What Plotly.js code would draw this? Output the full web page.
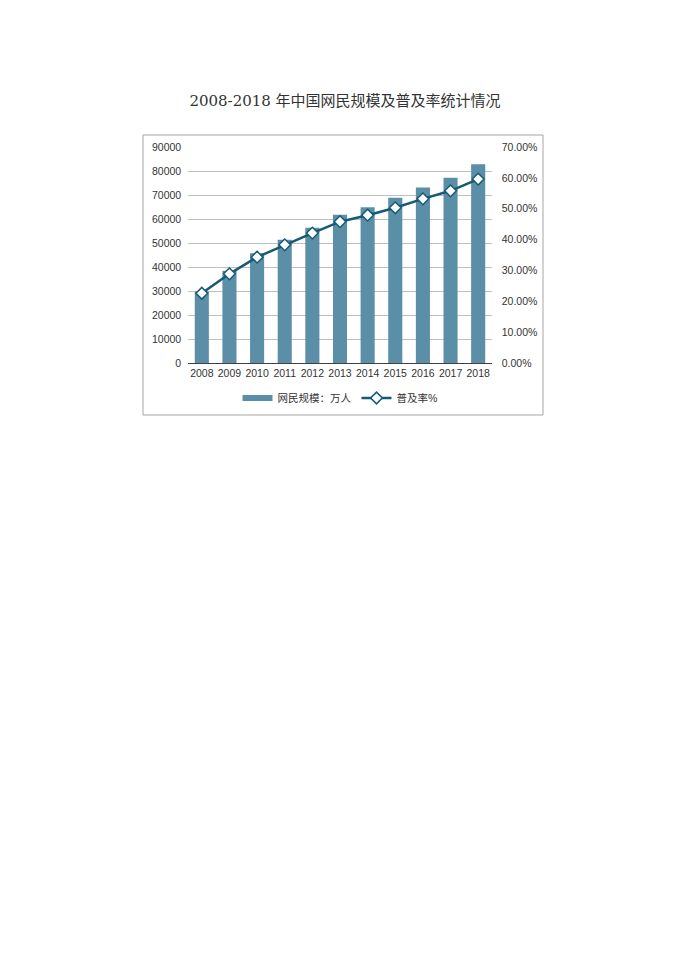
<!DOCTYPE html>
<html>
<head>
<meta charset="utf-8">
<script src="https://cdn.plot.ly/plotly-3.0.1.min.js"></script>
<style>html,body{margin:0;padding:0;background:#fff;}</style>
</head>
<body>
<div id="chart" style="width:690px;height:975px;"></div>
<script>
const years = ['2008','2009','2010','2011','2012','2013','2014','2015','2016','2017','2018'];
const users = [29800, 38400, 45730, 51310, 56400, 61758, 64875, 68826, 73125, 77198, 82851];
const rate = [0.226, 0.289, 0.343, 0.383, 0.421, 0.458, 0.479, 0.503, 0.532, 0.558, 0.596];
const barName = '网民规模：万人';
const lineName = '普及率%';
const titleText = '2008-2018 年中国网民规模及普及率统计情况';

const tickFont = {family: 'Liberation Sans, Arial, sans-serif', size: 10.5, color: '#333'};
const barColor = '#5b8fa7';
const lineColor = '#175a74';

const traces = [
  {type: 'bar', x: years, y: users, name: barName, showlegend: false, legendgroup: 'bar',
   marker: {color: barColor}, yaxis: 'y'},
  {type: 'scatter', mode: 'lines', x: [years[0]], y: [null], name: barName, legendgroup: 'bar',
   line: {color: barColor, width: 6}, yaxis: 'y', hoverinfo: 'skip'},
  {type: 'scatter', mode: 'lines+markers', x: years, y: rate, name: lineName, yaxis: 'y2',
   line: {color: lineColor, width: 2.5},
   marker: {symbol: 'diamond', size: 9, color: '#ffffff', line: {color: lineColor, width: 1.5}}}
];

const layout = {
  width: 690, height: 975,
  margin: {l: 188, r: 198, t: 147, b: 612},
  paper_bgcolor: '#fff', plot_bgcolor: '#fff',
  showlegend: true,
  bargap: 0.49,
  title: {text: titleText, x: 0.5, xref: 'container', xanchor: 'center', y: 1 - 101/975, yanchor: 'middle',
          font: {family: 'DejaVu Serif, Noto Sans CJK SC, serif', size: 15, color: '#333'}},
  xaxis: {type: 'category', range: [-0.5, 10.5], autorange: false, showgrid: false, showline: true,
          linecolor: '#404040', linewidth: 1, ticks: '', tickfont: tickFont, fixedrange: true},
  yaxis: {range: [0, 90000], dtick: 10000, showgrid: true, gridcolor: '#bfbfbf', gridwidth: 1,
          zeroline: false, showline: false, ticks: '', tickfont: tickFont, tickformat: 'd', ticksuffix: '  '},
  yaxis2: {range: [0, 0.7], dtick: 0.1, overlaying: 'y', side: 'right', showgrid: false,
           zeroline: false, showline: false, ticks: '', tickfont: tickFont, tickformat: '.2%', tickprefix: '   '},
  legend: {orientation: 'h', x: 0.5, xanchor: 'center', y: (363-398)/216, yanchor: 'middle',
           font: {family: 'Liberation Sans, Noto Sans CJK SC, sans-serif', size: 10.5, color: '#333'},
           bgcolor: 'rgba(0,0,0,0)', itemwidth: 30},
  shapes: [{type: 'rect', xref: 'paper', yref: 'paper',
            x0: (143-188)/304, x1: (543-188)/304, y0: (363-415)/216, y1: (363-135)/216,
            line: {color: '#a6a6a6', width: 1}, fillcolor: 'rgba(0,0,0,0)', layer: 'below'}]
};

Plotly.newPlot('chart', traces, layout, {displayModeBar: false, staticPlot: true});
</script>
</body>
</html>
